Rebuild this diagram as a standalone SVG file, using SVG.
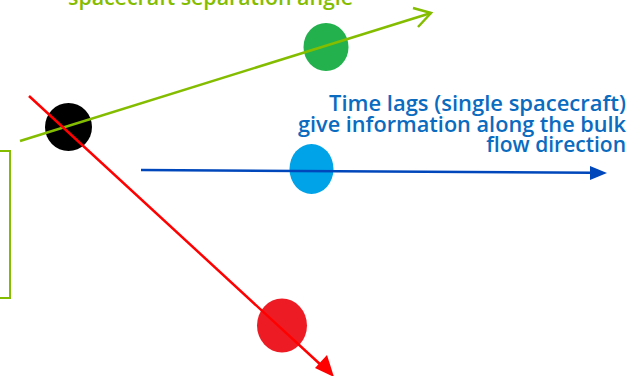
<svg xmlns="http://www.w3.org/2000/svg" width="632" height="376" viewBox="0 0 632 376">
<style>
.lbl{font-family:"Open Sans","DejaVu Sans",sans-serif;font-weight:600;font-size:21px}
.blue{fill:#0a6bbf}
.green{fill:#84bd00}
</style>
<rect x="-10" y="151" width="20" height="147" fill="none" stroke="#84bd00" stroke-width="2"/>
<g id="node-black"><ellipse cx="68.5" cy="127" rx="23.5" ry="24" fill="#000"/></g>
<g id="node-green"><ellipse cx="326" cy="47" rx="22.5" ry="24" fill="#22b14c"/></g>
<g id="node-blue"><ellipse cx="311.5" cy="169" rx="22" ry="25" fill="#00a2e8"/></g>
<g id="node-red"><ellipse cx="282" cy="325.5" rx="25" ry="27" fill="#ed1c24"/></g>
<g id="connectors">
<line x1="20" y1="141" x2="431" y2="13" stroke="#84bd00" stroke-width="2.5"/>
<polyline points="413,8 431,13 418,27" fill="none" stroke="#84bd00" stroke-width="2.5"/>
<line x1="29" y1="96" x2="322" y2="366" stroke="#ff0000" stroke-width="2.5"/>
<path d="M334,377 L315,368 L327,355 z" fill="#ff0000"/>
<line x1="141" y1="170" x2="592" y2="172.7" stroke="#0047bb" stroke-width="2.5"/>
<path d="M607,173 L590,166 L590,180 z" fill="#0047bb"/>
</g>
<g id="labels">
<text class="lbl green" x="68" y="5" textLength="285" lengthAdjust="spacingAndGlyphs">spacecraft separation angle</text>
<text class="lbl blue" x="329" y="111" textLength="297" lengthAdjust="spacingAndGlyphs">Time lags (single spacecraft)</text>
<text class="lbl blue" x="298" y="132" textLength="328" lengthAdjust="spacingAndGlyphs">give information along the bulk</text>
<text class="lbl blue" x="626" y="152" text-anchor="end">flow direction</text>
</g>
</svg>
